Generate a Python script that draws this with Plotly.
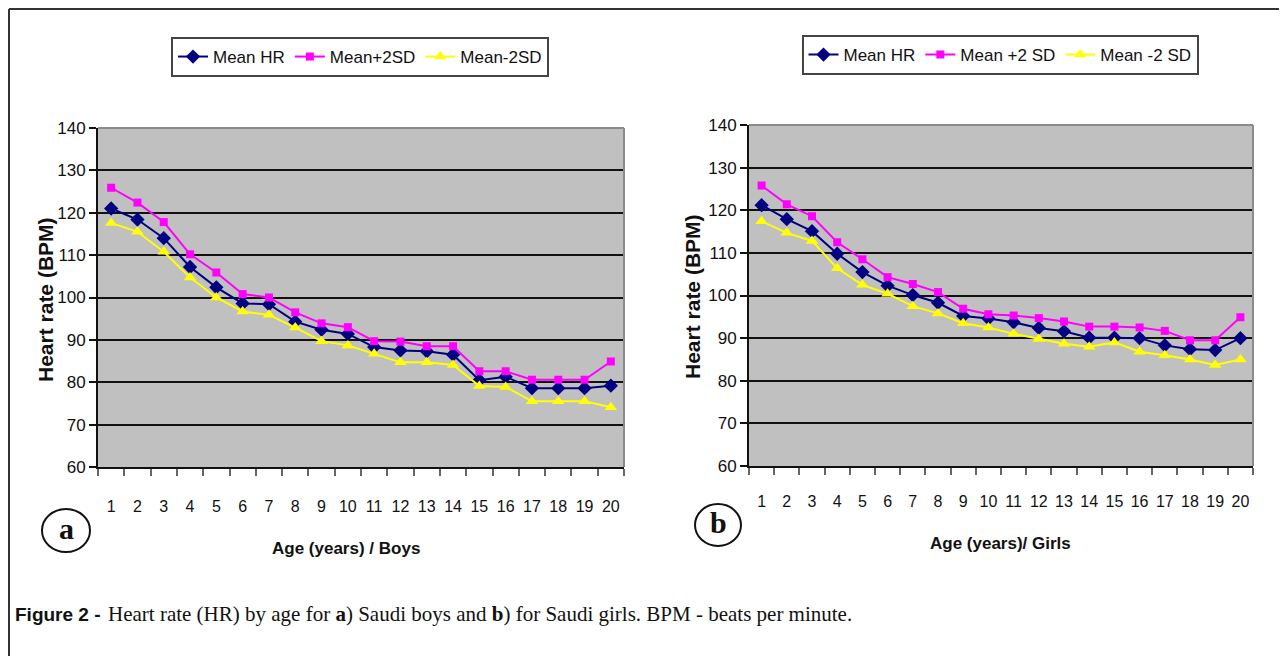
import plotly.graph_objects as go

W, H = 1287, 656
OFF = 8  # page offset of the figure inside the browser window

ages = list(range(1, 21))
age_labels = [str(a) for a in ages]
y_ticks = [60, 70, 80, 90, 100, 110, 120, 130, 140]

boys_mean = [121.0, 118.4, 114.0, 107.2, 102.4, 98.6, 98.4, 94.3, 92.4, 91.4,
             88.3, 87.5, 87.3, 86.5, 80.5, 81.3, 78.6, 78.6, 78.6, 79.2]
boys_plus = [125.9, 122.4, 117.8, 110.2, 105.9, 100.8, 100.0, 96.5, 93.9, 93.0,
             89.7, 89.6, 88.5, 88.5, 82.6, 82.6, 80.6, 80.6, 80.6, 84.9]
boys_minus = [117.6, 115.5, 110.8, 104.7, 100.0, 96.7, 95.9, 92.9, 89.7, 88.7,
              86.7, 84.7, 84.7, 84.1, 79.1, 78.9, 75.5, 75.5, 75.5, 74.1]

girls_mean = [121.2, 117.9, 115.1, 109.8, 105.5, 102.3, 100.1, 98.3, 95.2, 94.6,
              93.7, 92.4, 91.6, 90.1, 90.1, 90.0, 88.3, 87.4, 87.2, 90.0]
girls_plus = [125.8, 121.4, 118.6, 112.5, 108.5, 104.3, 102.7, 100.8, 96.9, 95.6,
              95.3, 94.7, 93.9, 92.7, 92.7, 92.5, 91.7, 89.5, 89.5, 94.9]
girls_minus = [117.4, 114.7, 112.8, 106.4, 102.5, 100.4, 97.5, 95.8, 93.5, 92.5,
               91.0, 89.8, 88.7, 88.0, 89.0, 86.8, 86.0, 85.0, 83.7, 85.0]

names_a = ["Mean HR", "Mean+2SD", "Mean-2SD"]
names_b = ["Mean HR", "Mean +2 SD", "Mean -2 SD"]

NAVY, MAG, YEL = "#000080", "#FF00FF", "#FFFF00"
SANS = "Liberation Sans, Arial, sans-serif"
SERIF = "Liberation Serif, Times New Roman, serif"


def px(x):
    return (x - OFF) / W


def py(y):
    return 1 - (y - OFF) / H


fig = go.Figure()

styles = [
    (NAVY, "diamond", 11),
    (MAG, "square", 8),
    (YEL, "triangle-up", 11),
]

for (col, sym, sz), name, vals in zip(styles, names_a, [boys_mean, boys_plus, boys_minus]):
    fig.add_trace(go.Scatter(
        x=ages, y=vals, name=name, mode="lines+markers",
        line=dict(color=col, width=2),
        marker=dict(symbol=sym, size=sz, color=col),
        xaxis="x", yaxis="y", legend="legend"))

for (col, sym, sz), name, vals in zip(styles, names_b, [girls_mean, girls_plus, girls_minus]):
    fig.add_trace(go.Scatter(
        x=ages, y=vals, name=name, mode="lines+markers",
        line=dict(color=col, width=2),
        marker=dict(symbol=sym, size=sz, color=col),
        xaxis="x2", yaxis="y2", legend="legend2"))

panels = {
    "a": dict(x0=98, x1=624, y0=128, y1=467, standoff=24),
    "b": dict(x0=749, x1=1253, y0=125, y1=466, standoff=20),
}


def xaxis_cfg(p, anchor):
    return dict(
        domain=[px(p["x0"]), px(p["x1"])], anchor=anchor, automargin=False,
        range=[0.5, 20.5], tickvals=ages, ticktext=age_labels,
        ticks="", showgrid=False, zeroline=False,
        showline=True, linecolor="#111", linewidth=2,
        tickfont=dict(family=SANS, size=16, color="#111"),
        ticklabelstandoff=p["standoff"],
        minor=dict(tickvals=[a + 0.5 for a in [0] + ages], ticks="outside",
                   ticklen=7, tickcolor="#666", tickwidth=2, showgrid=False),
    )


def yaxis_cfg(p, anchor):
    return dict(
        domain=[py(p["y1"]), py(p["y0"])], anchor=anchor, automargin=False,
        range=[60, 140], tickvals=y_ticks,
        ticks="outside", ticklen=7, tickcolor="#111", tickwidth=2,
        showgrid=True, gridcolor="#111", gridwidth=2, zeroline=False,
        showline=True, linecolor="#111", linewidth=2,
        tickfont=dict(family=SANS, size=17, color="#111"),
    )


pa, pb = panels["a"], panels["b"]
fig.update_layout(
    template="none",
    width=W, height=H,
    margin=dict(l=0, r=0, t=0, b=0, pad=0, autoexpand=False),
    paper_bgcolor="white",
    plot_bgcolor="#C0C0C0",
    xaxis=xaxis_cfg(pa, "y"),
    yaxis=yaxis_cfg(pa, "x"),
    xaxis2=xaxis_cfg(pb, "y2"),
    yaxis2=yaxis_cfg(pb, "x2"),
    legend=dict(orientation="h",
                x=px(360), y=py(37), xanchor="center", yanchor="top",
                bgcolor="white", bordercolor="#444", borderwidth=2,
                font=dict(family=SANS, size=17, color="#111"),
                itemwidth=30, tracegroupgap=0),
    legend2=dict(orientation="h",
                 x=px(1000), y=py(35), xanchor="center", yanchor="top",
                 bgcolor="white", bordercolor="#444", borderwidth=2,
                 font=dict(family=SANS, size=17, color="#111"),
                 itemwidth=30, tracegroupgap=0),
    showlegend=True,
)

shapes = []
for p in (pa, pb):
    shapes.append(dict(type="line", xref="paper", yref="paper",
                       x0=px(p["x0"]), x1=px(p["x1"]), y0=py(p["y0"]), y1=py(p["y0"]),
                       line=dict(color="#8a8a8a", width=2)))
    shapes.append(dict(type="line", xref="paper", yref="paper",
                       x0=px(p["x1"]), x1=px(p["x1"]), y0=py(p["y0"]), y1=py(p["y1"]),
                       line=dict(color="#8a8a8a", width=2)))
# outer frame (top and left)
shapes.append(dict(type="line", xref="paper", yref="paper",
                   x0=px(9), x1=1, y0=py(9), y1=py(9), line=dict(color="#333", width=2)))
shapes.append(dict(type="line", xref="paper", yref="paper",
                   x0=px(9), x1=px(9), y0=py(9), y1=py(H + OFF), line=dict(color="#333", width=2)))
shapes.append(dict(type="circle", xref="paper", yref="paper",
                   x0=px(42), x1=px(90), y0=py(552), y1=py(509), line=dict(color="#111", width=2)))
shapes.append(dict(type="circle", xref="paper", yref="paper",
                   x0=px(695), x1=px(741), y0=py(546), y1=py(504), line=dict(color="#111", width=2)))
fig.update_layout(shapes=shapes)


def note(text, x, y, size, family, xanchor="center", angle=0):
    return dict(text=text, x=px(x), y=py(y), xref="paper", yref="paper",
                xanchor=xanchor, yanchor="middle", textangle=angle, showarrow=False,
                font=dict(family=family, size=size, color="#111"))


ann = [
    note("<b>a</b>", 66, 528, 30, SERIF),
    note("<b>b</b>", 718, 522, 30, SERIF),
    note("<b>Age (years) / Boys</b>", 346, 548, 17, SANS),
    note("<b>Age (years)/ Girls</b>", 1000, 543, 17, SANS),
    note("<b>Heart rate (BPM)</b>", 46, 300, 21, SANS, angle=-90),
    note("<b>Heart rate (BPM)</b>", 692, 297, 21, SANS, angle=-90),
    note("<b>Figure 2 -</b>", 13, 614, 19, SANS, xanchor="left"),
    note("Heart rate (HR) by age for <b>a</b>) Saudi boys and <b>b</b>) for Saudi girls. BPM - beats per minute.",
         106, 614, 21, SERIF, xanchor="left"),
]
fig.update_layout(annotations=ann)

fig.write_html("out.html")
